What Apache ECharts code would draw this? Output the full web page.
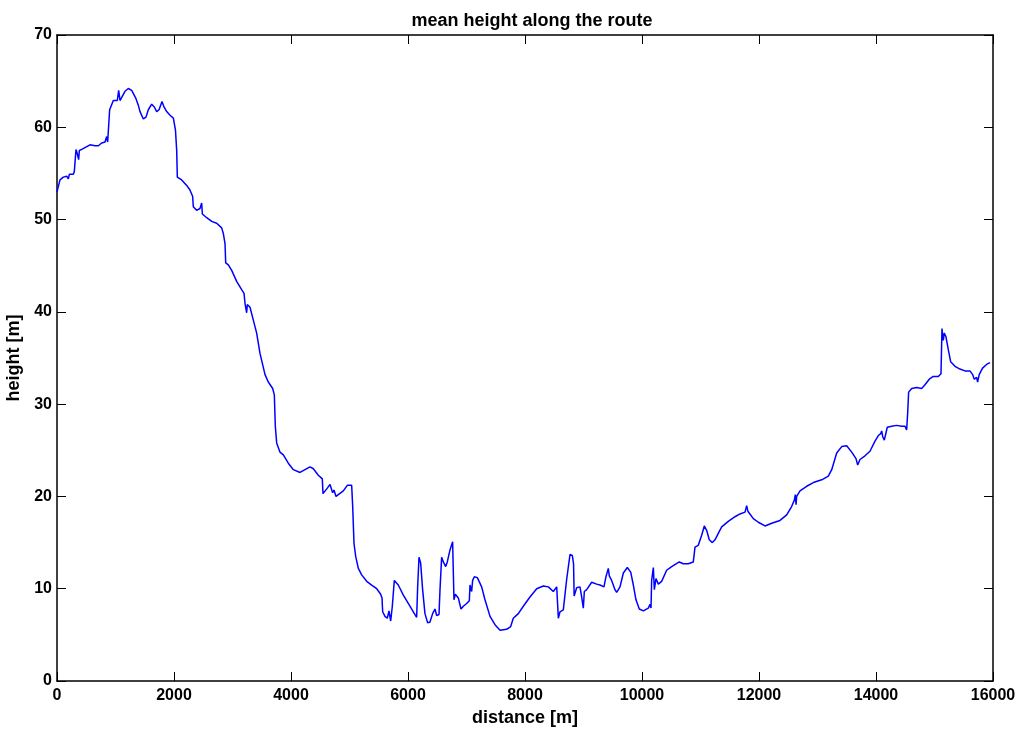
<!DOCTYPE html>
<html>
<head>
<meta charset="utf-8">
<script src="https://cdn.jsdelivr.net/npm/echarts@6/dist/echarts.min.js"></script>
<style>
  html, body { margin: 0; padding: 0; background: #ffffff; }
  #chart { width: 1023px; height: 729px; }
</style>
</head>
<body>
<div id="chart"></div>
<script>
// Route profile: distance along the route [m] and mean terrain height [m]
const distance = [
  0, 51, 108, 165, 194, 211, 279, 296, 325, 348, 370, 382, 422, 479, 564, 650, 707, 764, 821, 849,
  866, 889, 900, 963, 1031, 1054, 1077, 1106, 1162, 1219, 1277, 1350, 1390, 1419, 1430, 1476, 1521, 1561, 1619, 1664,
  1704, 1744, 1795, 1829, 1875, 1932, 1989, 2017, 2025, 2046, 2057, 2131, 2217, 2273, 2319, 2330, 2387, 2444, 2473, 2485,
  2559, 2645, 2730, 2815, 2843, 2872, 2884, 2929, 2986, 3071, 3157, 3197, 3214, 3242, 3253, 3299, 3356, 3413, 3470, 3556,
  3612, 3687, 3715, 3732, 3755, 3783, 3812, 3869, 3954, 4040, 4154, 4239, 4325, 4382, 4467, 4535, 4547, 4581, 4621, 4667,
  4695, 4712, 4735, 4769, 4809, 4894, 4963, 5037, 5054, 5077, 5106, 5151, 5208, 5294, 5379, 5465, 5533, 5556, 5567, 5607,
  5646, 5675, 5704, 5732, 5766, 5834, 5920, 6005, 6091, 6148, 6165, 6188, 6216, 6250, 6290, 6336, 6376, 6421, 6461, 6490,
  6530, 6547, 6575, 6604, 6644, 6672, 6718, 6763, 6775, 6786, 6809, 6843, 6860, 6906, 6946, 7003, 7048, 7060, 7088, 7105,
  7134, 7185, 7259, 7316, 7402, 7487, 7573, 7687, 7755, 7800, 7886, 7971, 8085, 8200, 8313, 8399, 8484, 8542, 8570, 8598,
  8655, 8712, 8769, 8809, 8830, 8840, 8883, 8940, 8969, 8997, 9014, 9054, 9140, 9225, 9282, 9350, 9384, 9407, 9424, 9441,
  9481, 9538, 9567, 9624, 9681, 9749, 9807, 9852, 9897, 9954, 10023, 10108, 10137, 10154, 10165, 10194, 10211, 10239, 10279, 10336,
  10421, 10507, 10637, 10705, 10791, 10820, 10877, 10888, 10906, 10962, 11020, 11065, 11106, 11150, 11202, 11248, 11304, 11362, 11475, 11590,
  11675, 11761, 11789, 11810, 11903, 11989, 12103, 12217, 12359, 12473, 12558, 12604, 12621, 12633, 12644, 12701, 12815, 12929, 13072, 13185,
  13243, 13328, 13414, 13499, 13585, 13658, 13687, 13726, 13812, 13897, 13983, 14040, 14080, 14097, 14114, 14142, 14171, 14193, 14268, 14353,
  14439, 14496, 14524, 14541, 14558, 14610, 14695, 14781, 14837, 14911, 14979, 15065, 15111, 15128, 15150, 15167, 15196, 15236, 15276, 15350,
  15435, 15521, 15606, 15652, 15680, 15720, 15737, 15764, 15822, 15890, 15949
];
const height = [
  53.0, 54.3, 54.6, 54.7, 54.4, 54.9, 54.9, 55.2, 57.6, 57.1, 56.5, 57.5, 57.6, 57.8, 58.1, 58.0, 58.0, 58.3, 58.4, 59.0,
  58.4, 58.4, 61.9, 62.9, 62.9, 64.0, 62.9, 63.1, 63.9, 64.2, 64.0, 63.1, 62.4, 61.7, 61.9, 60.9, 61.1, 61.9, 62.5, 62.2,
  61.7, 61.9, 62.8, 62.2, 61.7, 61.3, 61.0, 60.9, 59.7, 57.5, 54.6, 54.3, 53.7, 53.2, 52.5, 51.4, 51.0, 51.2, 51.8, 50.6,
  50.2, 49.8, 49.6, 49.1, 48.5, 47.4, 45.3, 45.1, 44.5, 43.3, 42.4, 42.0, 40.9, 39.9, 40.8, 40.5, 39.1, 37.7, 35.5, 33.2,
  32.4, 31.7, 31.0, 27.6, 25.8, 25.9, 24.8, 24.5, 23.6, 22.9, 22.6, 22.9, 23.2, 23.0, 22.3, 21.9, 20.3, 20.3, 20.9, 21.3,
  21.2, 20.4, 20.7, 20.0, 20.2, 20.6, 21.2, 21.2, 19.0, 14.9, 13.5, 12.2, 11.5, 10.8, 10.4, 10.0, 9.4, 9.0, 7.5, 7.0,
  6.8, 7.6, 6.5, 8.1, 10.9, 10.4, 9.3, 8.4, 7.5, 6.9, 10.2, 13.4, 12.8, 9.9, 7.3, 6.3, 6.4, 7.3, 7.8, 7.1,
  7.2, 9.9, 13.4, 12.9, 12.4, 12.9, 14.2, 15.1, 11.7, 8.8, 9.4, 9.5, 9.0, 7.8, 8.1, 8.4, 8.7, 10.4, 9.7, 10.9,
  11.3, 11.2, 10.2, 8.8, 7.0, 6.1, 5.5, 5.6, 5.9, 6.8, 7.3, 8.1, 9.1, 10.0, 10.3, 10.2, 9.7, 10.2, 6.8, 7.5,
  7.7, 11.0, 13.7, 13.6, 12.7, 9.2, 10.1, 10.2, 9.1, 7.9, 9.7, 9.9, 10.7, 10.5, 10.4, 10.2, 11.3, 11.5, 12.2, 11.4,
  10.9, 9.9, 9.6, 10.2, 11.7, 12.3, 11.8, 10.4, 8.8, 7.8, 7.6, 7.9, 8.3, 7.9, 10.9, 12.3, 9.9, 11.1, 10.5, 10.8,
  12.0, 12.4, 12.9, 12.7, 12.7, 12.5, 12.9, 12.8, 14.5, 14.7, 15.8, 16.8, 16.3, 15.3, 15.0, 15.3, 16.0, 16.7, 17.3, 17.8,
  18.1, 18.3, 19.0, 18.4, 17.6, 17.2, 16.8, 17.1, 17.4, 18.0, 18.9, 19.6, 20.2, 19.1, 20.0, 20.6, 21.1, 21.5, 21.8, 22.2,
  22.9, 24.7, 25.4, 25.5, 24.8, 24.1, 23.4, 24.0, 24.4, 24.9, 26.0, 26.6, 26.8, 27.1, 26.5, 26.1, 26.9, 27.5, 27.6, 27.7,
  27.6, 27.6, 27.2, 29.0, 31.3, 31.7, 31.8, 31.7, 32.1, 32.7, 33.0, 33.0, 33.3, 38.2, 36.9, 37.7, 37.3, 35.9, 34.6, 34.1,
  33.8, 33.6, 33.6, 33.2, 32.7, 32.9, 32.4, 33.2, 33.9, 34.3, 34.5
];

// Axis ranges and tick spacing
const xRange = [0, 16000];
const xStep = 2000;
const yRange = [0, 70];
const yStep = 10;

const FONT = "'Liberation Sans', Arial, Helvetica, sans-serif";
const points = distance.map((d, i) => [d, height[i]]);

// Boxed frame: every side carries its own axis line, ticks point inward
const frameLine = { show: true, onZero: false, lineStyle: { color: '#000', width: 1.5 } };
const innerTicks = { show: true, inside: true, length: 9, lineStyle: { color: '#000', width: 1 } };
const tickText = { color: '#000', fontFamily: FONT, fontWeight: 'bold', fontSize: 16 };
const nameText = { color: '#000', fontFamily: FONT, fontWeight: 'bold', fontSize: 18 };

const chart = echarts.init(document.getElementById('chart'), null, { renderer: 'canvas' });
chart.setOption({
  animation: false,
  backgroundColor: '#ffffff',
  title: {
    text: 'mean height along the route',
    left: 527,
    top: 7,
    textAlign: 'center',
    textStyle: { color: '#000', fontFamily: FONT, fontWeight: 'bold', fontSize: 18 }
  },
  grid: {
    left: 57, right: 30, top: 35, bottom: 48,
    containLabel: false,
    outerBoundsMode: 'none'
  },
  xAxis: [
    {
      type: 'value', position: 'bottom', min: xRange[0], max: xRange[1], interval: xStep,
      name: 'distance [m]', nameLocation: 'middle', nameGap: 26, nameTextStyle: nameText,
      axisLine: frameLine, axisTick: innerTicks, splitLine: { show: false },
      axisLabel: Object.assign({ margin: 7, formatter: v => String(v) }, tickText)
    },
    {
      type: 'value', position: 'top', min: xRange[0], max: xRange[1], interval: xStep,
      axisLine: frameLine, axisTick: innerTicks, splitLine: { show: false },
      axisLabel: { show: false }
    }
  ],
  yAxis: [
    {
      type: 'value', position: 'left', min: yRange[0], max: yRange[1], interval: yStep,
      name: 'height [m]', nameLocation: 'middle', nameGap: 28, nameTextStyle: nameText,
      axisLine: frameLine, axisTick: innerTicks, splitLine: { show: false },
      axisLabel: Object.assign({ margin: 5, formatter: v => String(v) }, tickText)
    },
    {
      type: 'value', position: 'right', min: yRange[0], max: yRange[1], interval: yStep,
      axisLine: frameLine, axisTick: innerTicks, splitLine: { show: false },
      axisLabel: { show: false }
    }
  ],
  series: [
    {
      type: 'line',
      xAxisIndex: 0,
      yAxisIndex: 0,
      data: points,
      showSymbol: false,
      symbol: 'none',
      lineStyle: { color: '#0000ff', width: 1.5 },
      itemStyle: { color: '#0000ff' },
      z: 5
    }
  ]
});
</script>
</body>
</html>
